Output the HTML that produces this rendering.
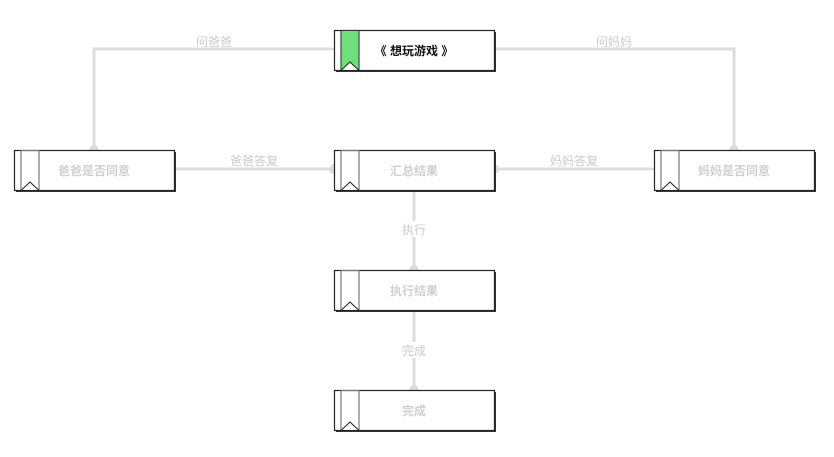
<!DOCTYPE html>
<html><head><meta charset="utf-8"><style>
html,body{margin:0;padding:0;background:#fff;}
svg{display:block;font-family:"Liberation Sans","Noto Sans CJK SC",sans-serif;}
</style></head><body>
<svg width="834" height="457" viewBox="0 0 834 457">
<defs>
<g id="bm">
 <rect x="2" y="2" width="160" height="40" fill="#333"/>
 <rect x="0.5" y="0.5" width="160" height="40" fill="#fff" stroke="#222" stroke-width="1.2"/>
 <rect x="7" y="0.5" width="18" height="40" fill="none" stroke="#777" stroke-width="1.2"/>
 <path d="M7 40.5 L16 32 L25 40.5 Z" fill="#fff" stroke="#222" stroke-width="1"/>
</g>
</defs>
<g stroke="#dddddd" stroke-width="3" fill="none">
 <path d="M334 49 H94 V150"/>
 <path d="M494 49 H734 V150"/>
 <path d="M174 169 H334"/>
 <path d="M494 169 H654"/>
 <path d="M414 190 V270"/>
 <path d="M414 310 V390"/>
</g>
<g fill="#dddddd">
 <circle cx="94" cy="150" r="5"/>
 <circle cx="734" cy="150" r="5"/>
 <circle cx="334" cy="169" r="5"/>
 <circle cx="494" cy="169" r="5"/>
 <circle cx="414" cy="270" r="5"/>
 <circle cx="414" cy="390" r="5"/>
</g>
<g font-size="12" fill="#cccccc" text-anchor="middle">
 <text x="214" y="46">问爸爸</text>
 <text x="614" y="46">问妈妈</text>
 <text x="254" y="165">爸爸答复</text>
 <text x="574" y="165">妈妈答复</text>
 <rect x="400" y="221" width="28" height="16" fill="#fff"/>
 <text x="414" y="234">执行</text>
 <rect x="400" y="342" width="28" height="16" fill="#fff"/>
 <text x="414" y="355">完成</text>
</g>
<use href="#bm" x="334" y="30"/>
<rect x="341" y="30.5" width="18" height="40" fill="#6ee07a" stroke="#333" stroke-width="1"/>
<path d="M341 70.5 L350 62 L359 70.5 Z" fill="#fff" stroke="#222" stroke-width="1"/>
<use href="#bm" x="14" y="150"/>
<use href="#bm" x="334" y="150"/>
<use href="#bm" x="654" y="150"/>
<use href="#bm" x="334" y="270"/>
<use href="#bm" x="334" y="390"/>
<g font-size="12" font-weight="bold" text-anchor="middle">
 <text x="414" y="55" fill="#111">《 想玩游戏 》</text>
 <text x="94" y="175" fill="#d0d0d0">爸爸是否同意</text>
 <text x="414" y="175" fill="#d0d0d0">汇总结果</text>
 <text x="734" y="175" fill="#d0d0d0">妈妈是否同意</text>
 <text x="414" y="295" fill="#d0d0d0">执行结果</text>
 <text x="414" y="415" fill="#d0d0d0">完成</text>
</g>
</svg>
</body></html>
